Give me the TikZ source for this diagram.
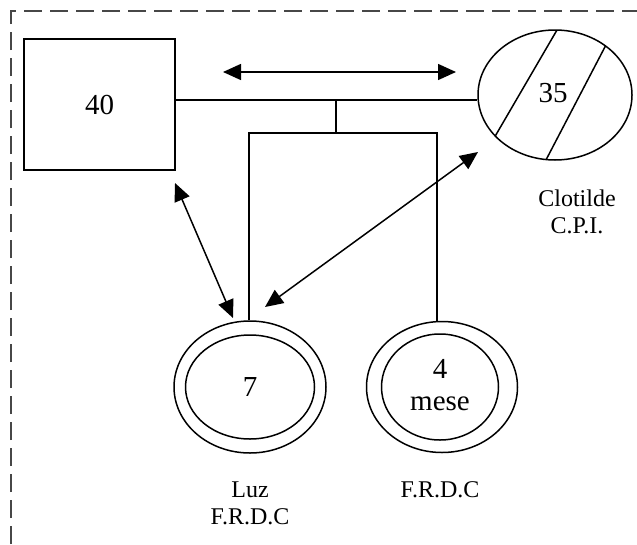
\documentclass[tikz,border=0pt]{standalone}
\usepackage{fontspec}
\setmainfont{Liberation Serif}
\usetikzlibrary{shapes.geometric,arrows.meta}
\begin{document}
\begin{tikzpicture}[x=1pt,y=-1pt,
  ln/.style={line width=1.5pt,black},
  dbl/.style={ln,{Triangle[length=18pt,width=16pt]}-{Triangle[length=18pt,width=16pt]}},
  big/.style={font=\fontsize{29}{32}\selectfont},
  lab/.style={font=\fontsize{24}{27}\selectfont,align=center},
  oval/.style={ellipse,draw,line width=1.5pt,inner sep=0pt},
  border/.style={line width=2.2pt,draw=black!72,dash pattern=on 18pt off 8pt}
]
\useasboundingbox (0,0) rectangle (637,544);
% dashed frame
\draw[border] (11,544) -- (11,11) -- (637,11);

% nodes
\node[draw,ln,rectangle,minimum width=151pt,minimum height=131pt,inner sep=0pt,big] (sq) at (99.5,104.5) {40};
\node[oval,minimum width=154pt,minimum height=130pt] (cl) at (555,95) {};
\node[big] (clt) at (553,93) {35};
\begin{scope}
  \clip (555,95) ellipse [x radius=77pt, y radius=65pt];
  \draw[ln] (497,133) -- ++(-30,51.5) (497,133) -- ++(90,-154.5);
  \draw[ln] (547,158) -- ++(-30,57.5) (547,158) -- ++(90,-172.5);
\end{scope}
\node[lab] (cllab) at (577,212) {Clotilde\\C.P.I.};

\node[oval,minimum width=152pt,minimum height=132pt] (luz) at (250,387) {};
\node[oval,minimum width=129pt,minimum height=104pt,big] (luzi) at (250,387) {7};
\node[lab] (luzlab) at (250,503) {Luz\\F.R.D.C};

\node[oval,minimum width=151pt,minimum height=131pt] (c4) at (442,387) {};
\node[oval,minimum width=117pt,minimum height=106pt] (c4i) at (440,387) {};
\node[big,align=center] (c4t) at (440,385) {4\\mese};
\node[lab] (c4lab) at (440,490) {F.R.D.C};

% family lines
\coordinate (j) at (336,100);
\coordinate (k) at (336,133);
\coordinate (kl) at (249,133);
\coordinate (kr) at (437,133);
\draw[ln] (sq.east |- j) -- (cl.west |- j);
\draw[ln] (j) -- (k);
\draw[ln] (kl |- luz.north) -- (kl) -- (kr) -- (kr |- c4.north);

% relation arrows
\coordinate (a1) at (223,72);
\coordinate (a2) at (456,72);
\coordinate (b1) at (175,183);
\coordinate (b2) at (233,318);
\coordinate (c1) at (478,152);
\coordinate (c2) at (265,307);
\draw[dbl] (a1) -- (a2);
\draw[dbl] (b1) -- (b2);
\draw[dbl] (c1) -- (c2);
\end{tikzpicture}
\end{document}
